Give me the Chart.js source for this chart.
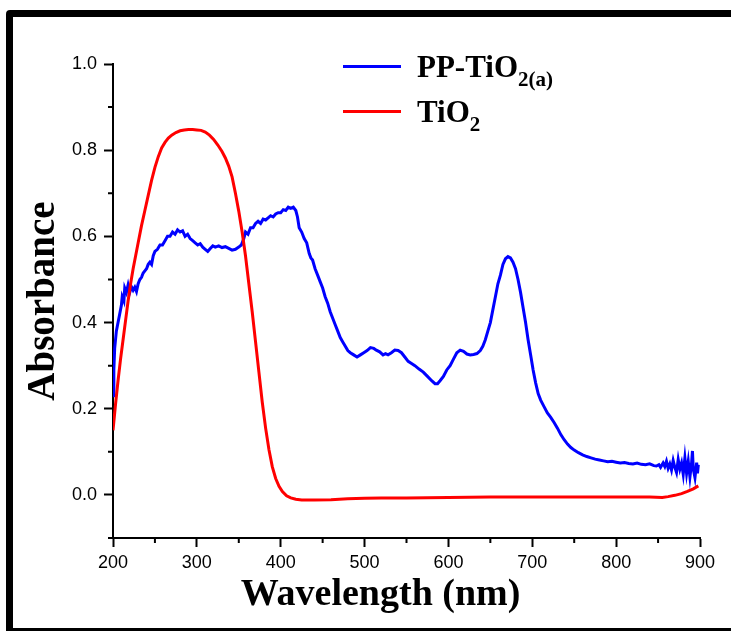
<!DOCTYPE html>
<html>
<head>
<meta charset="utf-8">
<script src="https://cdn.jsdelivr.net/npm/chart.js@4.4.1/dist/chart.umd.min.js"></script>
<style>
    html, body { margin: 0; padding: 0; background: #fff; overflow: hidden; }
    #wrap { position: relative; width: 731px; height: 631px; }
    #frame { position: absolute; left: 6px; top: 10px; width: 800px; height: 611px; border: 7px solid #000; border-radius: 4px; pointer-events: none; }
    #legend { position: absolute; left: 343px; top: 51px; }
    .row { position: relative; height: 45px; }
    .swatch { position: absolute; left: 0; width: 58px; height: 3px; }
    .leg { position: absolute; left: 74px; top: 0; font: bold 31px "Liberation Serif", "Times New Roman", serif; line-height: 31px; color: #000; white-space: nowrap; }
    .leg sub { font-size: 21px; vertical-align: -9px; line-height: 0; }
</style>
</head>
<body>
<div id="wrap">
    <canvas id="myChart" width="731" height="631"></canvas>
    <div id="legend"></div>
    <div id="frame"></div>
</div>
<script>
// PP-TiO2(a) spectrum
let ppWave = [200, 201, 202, 204, 206, 208, 210, 211, 213, 214, 216, 218, 220, 222, 224, 226, 228, 230, 232, 234,
    236, 238, 240, 242, 244, 246, 248, 250, 253, 256, 259, 262, 265, 268, 271, 274, 277, 280, 283, 286, 289,
    292, 295, 298, 301, 304, 307, 310, 313, 316, 319, 322, 326, 330, 334, 338, 342, 346, 350, 353, 356,
    358, 361, 364, 367, 370, 373, 376, 379, 382, 385, 388, 391, 394, 397, 400, 403, 406, 409, 412, 415,
    418, 420, 422, 425, 428, 431, 434, 436, 438, 441, 444, 447, 450, 453, 456, 459, 462, 465, 468, 471,
    474, 477, 480, 483, 487, 491, 495, 499, 503, 507, 511, 514, 518, 522, 525, 528, 532, 536, 540, 544,
    548, 552, 556, 560, 565, 570, 575, 580, 584, 587, 590, 594, 598, 602, 606, 610, 614, 618, 622, 626,
    630, 634, 638, 641, 644, 647, 650, 653, 656, 659, 662, 665, 668, 671, 674, 677, 680, 683, 686, 689,
    692, 695, 698, 701, 704, 707, 710, 714, 718, 722, 726, 730, 734, 738, 742, 746, 750, 755, 760, 765,
    770, 775, 780, 785, 790, 795, 800, 805, 810, 815, 820, 825, 830, 835, 840, 845, 848, 851, 853, 856,
    858, 860, 862, 864, 866, 868, 870, 872, 874, 876, 878, 880, 882, 884, 886, 888, 890, 891, 892, 894,
    896, 897, 898];
let ppAbs = [0.23, 0.29, 0.34, 0.38, 0.40, 0.42, 0.44, 0.46, 0.45, 0.48, 0.47, 0.487, 0.47, 0.483, 0.475, 0.482, 0.472, 0.49, 0.50, 0.505,
    0.515, 0.52, 0.525, 0.535, 0.54, 0.535, 0.555, 0.565, 0.57, 0.58, 0.58, 0.59, 0.60, 0.60, 0.61, 0.605, 0.615, 0.61, 0.613, 0.60, 0.605,
    0.595, 0.59, 0.585, 0.58, 0.583, 0.575, 0.57, 0.565, 0.572, 0.578, 0.575, 0.578, 0.574, 0.576, 0.572, 0.568, 0.57, 0.575, 0.58, 0.595,
    0.61, 0.605, 0.62, 0.62, 0.63, 0.635, 0.63, 0.64, 0.638, 0.643, 0.648, 0.645, 0.652, 0.655, 0.655, 0.662, 0.66, 0.668, 0.665, 0.668,
    0.66, 0.645, 0.62, 0.61, 0.595, 0.585, 0.56, 0.55, 0.545, 0.525, 0.51, 0.495, 0.48, 0.46, 0.445, 0.425, 0.41, 0.395, 0.38, 0.365,
    0.355, 0.345, 0.335, 0.33, 0.325, 0.32, 0.325, 0.33, 0.335, 0.342, 0.34, 0.336, 0.332, 0.325, 0.328, 0.325, 0.33, 0.336, 0.335, 0.33,
    0.32, 0.31, 0.305, 0.30, 0.292, 0.285, 0.275, 0.265, 0.258, 0.258, 0.265, 0.275, 0.29, 0.30, 0.315, 0.33, 0.336, 0.333, 0.327, 0.325,
    0.326, 0.328, 0.335, 0.345, 0.36, 0.38, 0.40, 0.43, 0.46, 0.49, 0.51, 0.535, 0.548, 0.553, 0.55, 0.54, 0.525, 0.50, 0.47, 0.435,
    0.40, 0.36, 0.325, 0.29, 0.26, 0.235, 0.22, 0.205, 0.19, 0.18, 0.168, 0.155, 0.14, 0.128, 0.118, 0.11, 0.104, 0.098, 0.093, 0.089,
    0.086, 0.083, 0.081, 0.079, 0.077, 0.078, 0.076, 0.074, 0.075, 0.073, 0.072, 0.074, 0.071, 0.07, 0.072, 0.068, 0.067, 0.07, 0.064, 0.074,
    0.066, 0.078, 0.062, 0.072, 0.058, 0.08, 0.064, 0.052, 0.082, 0.06, 0.074, 0.048, 0.086, 0.05, 0.078, 0.042, 0.075, 0.102, 0.06, 0.04,
    0.075, 0.05, 0.07];

// TiO2 spectrum
let tiWave = [200, 203, 206, 209, 212, 215, 218, 221, 224, 227, 230, 234, 238, 242, 246, 250, 254, 258, 262, 266,
    270, 275, 280, 285, 290, 295, 300, 305, 310, 315, 320, 325, 330, 334, 338, 342, 346, 350, 354, 358,
    362, 366, 370, 374, 378, 382, 386, 390, 394, 398, 402, 407, 412, 418, 425, 440, 460, 480, 500, 520,
    550, 600, 650, 700, 750, 800, 840, 855, 862, 870, 878, 885, 892, 898];
let tiAbs = [0.15, 0.21, 0.265, 0.315, 0.36, 0.405, 0.45, 0.49, 0.525, 0.555, 0.585, 0.625, 0.66, 0.695, 0.73, 0.76, 0.785, 0.805, 0.818, 0.828,
    0.835, 0.841, 0.845, 0.847, 0.848, 0.848, 0.847, 0.846, 0.842, 0.835, 0.825, 0.812, 0.797, 0.782, 0.763, 0.738, 0.70, 0.658, 0.61, 0.555,
    0.49, 0.425, 0.355, 0.285, 0.215, 0.155, 0.105, 0.065, 0.038, 0.02, 0.008, -0.002, -0.007, -0.01, -0.012, -0.012, -0.011, -0.009, -0.008, -0.007,
    -0.007, -0.006, -0.005, -0.005, -0.005, -0.005, -0.005, -0.006, -0.004, -0.001, 0.003, 0.008, 0.014, 0.021];

let seriesNames = ['PP-TiO2(a)', 'TiO2'];
let legendHtml = ['PP-TiO<sub>2(a)</sub>', 'TiO<sub>2</sub>'];
let seriesColors = ['#0000ff', '#ff0000'];

let yMajor = [0, 0.2, 0.4, 0.6, 0.8, 1.0];
let yMinor = [-0.1, 0.1, 0.3, 0.5, 0.7, 0.9];
let xMinor = [250, 350, 450, 550, 650, 750, 850];

function toPoints(xs, ys) {
    let pts = [];
    for (let i = 0; i < xs.length; i++) {
        pts.push({ x: xs[i], y: ys[i] });
    }
    return pts;
}

// small ticks between the labelled ones
const minorTicks = {
    id: 'minorTicks',
    afterDraw(chart) {
        const ctx = chart.ctx;
        const xs = chart.scales.x;
        const ys = chart.scales.y;
        ctx.save();
        ctx.strokeStyle = '#000';
        ctx.lineWidth = 2;
        ctx.beginPath();
        xMinor.forEach(v => {
            let p = xs.getPixelForValue(v);
            ctx.moveTo(p, xs.top);
            ctx.lineTo(p, xs.top + 5);
        });
        yMinor.forEach(v => {
            let p = ys.getPixelForValue(v);
            ctx.moveTo(ys.right, p);
            ctx.lineTo(ys.right - 5, p);
        });
        ctx.stroke();
        ctx.restore();
    }
};

// the x title sits a bit left of the plot centre in the original
const titleShift = {
    id: 'titleShift',
    beforeDraw(chart) {
        const sc = chart.scales.x;
        if (!sc._shifted) {
            const orig = sc.drawTitle;
            sc.drawTitle = function () {
                chart.ctx.save();
                chart.ctx.translate(-26, 0);
                orig.apply(this, arguments);
                chart.ctx.restore();
            };
            sc._shifted = true;
        }
    }
};

const htmlLegend = {
    id: 'htmlLegend',
    afterUpdate(chart) {
        const box = document.getElementById('legend');
        box.innerHTML = '';
        chart.data.datasets.forEach((ds, i) => {
            const row = document.createElement('div');
            row.className = 'row';
            const sw = document.createElement('div');
            sw.className = 'swatch';
            sw.style.background = ds.borderColor;
            sw.style.top = '14px';
            const txt = document.createElement('div');
            txt.className = 'leg';
            txt.innerHTML = legendHtml[i];
            row.appendChild(sw);
            row.appendChild(txt);
            box.appendChild(row);
        });
    }
};

const createdGraph = document.getElementById('myChart');
new Chart(createdGraph, {
    type: 'line',
    data: {
        datasets: [
            {
                label: seriesNames[0],
                data: toPoints(ppWave, ppAbs),
                borderColor: seriesColors[0],
                borderWidth: 3,
                pointRadius: 0,
                tension: 0,
                order: 2
            },
            {
                label: seriesNames[1],
                data: toPoints(tiWave, tiAbs),
                borderColor: seriesColors[1],
                borderWidth: 3,
                pointRadius: 0,
                tension: 0,
                order: 1
            }
        ]
    },
    options: {
        responsive: false,
        animation: false,
        layout: { padding: { left: 0, right: 31, top: 64, bottom: 0 } },
        plugins: {
            legend: { display: false },
            tooltip: { enabled: false }
        },
        scales: {
            x: {
                type: 'linear',
                min: 200,
                max: 900,
                afterFit: (scale) => { scale.height = 93; },
                border: { display: true, color: '#000', width: 2 },
                grid: { display: true, drawOnChartArea: false, drawTicks: true, tickLength: 9, tickColor: '#000', tickWidth: 2 },
                ticks: {
                    stepSize: 100,
                    color: '#000',
                    padding: 5,
                    maxRotation: 0,
                    font: { family: '"Liberation Sans", Arial, sans-serif', size: 18 }
                },
                title: {
                    display: true,
                    text: 'Wavelength (nm)',
                    color: '#000',
                    padding: { top: 0, bottom: 13 },
                    font: { family: '"Liberation Serif", "Times New Roman", serif', size: 38, weight: 'bold' }
                }
            },
            y: {
                min: -0.1,
                max: 1.0,
                afterFit: (scale) => { scale.width = 113; },
                afterBuildTicks: (scale) => { scale.ticks = yMajor.map(v => ({ value: v })); },
                border: { display: true, color: '#000', width: 2 },
                grid: { display: true, drawOnChartArea: false, drawTicks: true, tickLength: 9, tickColor: '#000', tickWidth: 2 },
                ticks: {
                    color: '#000',
                    padding: 7,
                    callback: (v) => Number(v).toFixed(1),
                    font: { family: '"Liberation Sans", Arial, sans-serif', size: 18 }
                },
                title: {
                    display: true,
                    text: 'Absorbance',
                    color: '#000',
                    padding: { top: 21, bottom: 0 },
                    font: { family: '"Liberation Serif", "Times New Roman", serif', size: 39, weight: 'bold' }
                }
            }
        }
    },
    plugins: [minorTicks, titleShift, htmlLegend]
});
</script>
</body>
</html>
